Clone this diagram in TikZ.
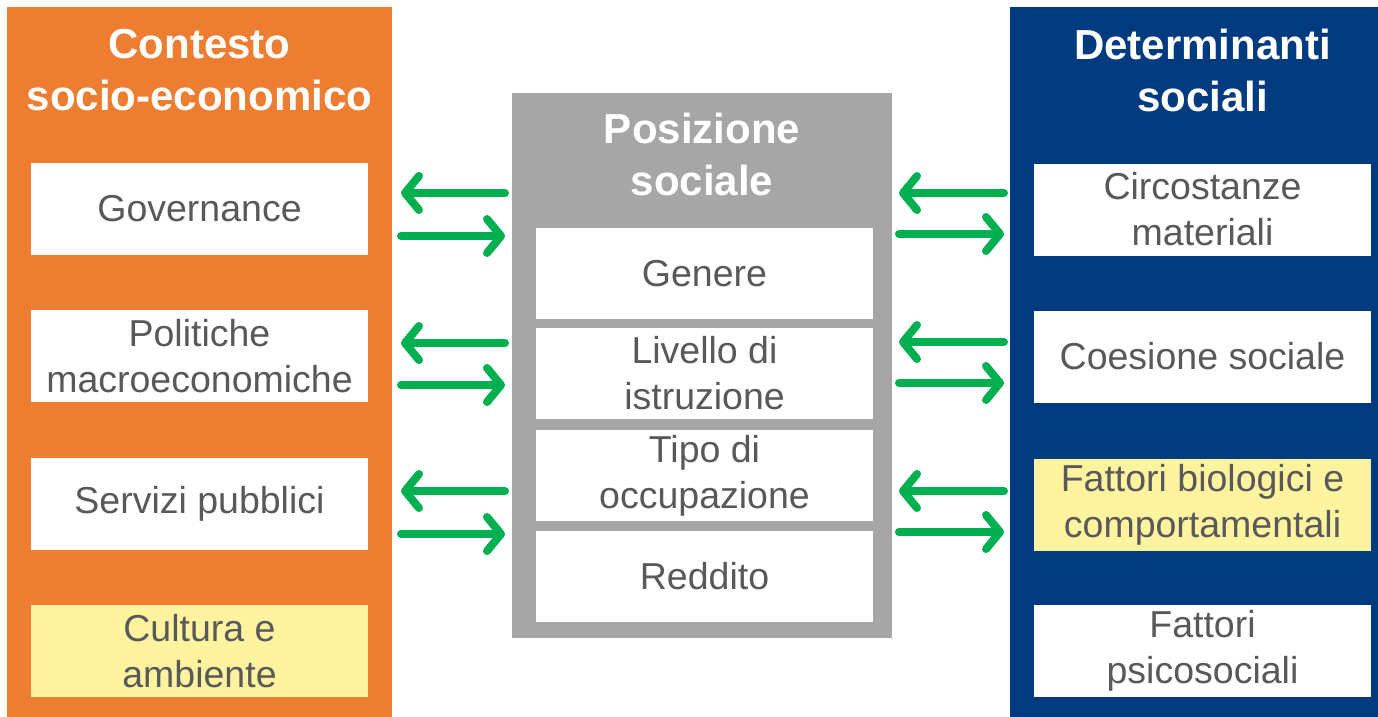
\documentclass[tikz,border=0pt]{standalone}
\usepackage{fontspec}
\setmainfont{Liberation Sans}
\usetikzlibrary{arrows.meta}
\definecolor{ctxorange}{RGB}{237,125,49}
\definecolor{detblue}{RGB}{0,59,128}
\definecolor{posgrey}{RGB}{166,166,166}
\definecolor{hlyellow}{RGB}{255,243,160}
\definecolor{arrowgreen}{RGB}{0,176,80}
\definecolor{txtgrey}{RGB}{89,89,89}
\begin{document}
\begin{tikzpicture}[x=1pt,y=-1pt,
  panelbox/.style={rectangle, anchor=north west, inner sep=0pt, draw=none},
  itembox/.style={rectangle, fill=white, inner sep=0pt, minimum width=337pt,
    minimum height=92pt, align=center, text=txtgrey,
    font=\fontsize{37.5}{46}\selectfont},
  hl/.style={fill=hlyellow},
  paneltitle/.style={anchor=north, inner sep=0pt, align=center, text=white,
    font=\bfseries\fontsize{42}{52}\selectfont},
  flow/.style={draw=arrowgreen, line width=8pt, line cap=round,
    -{Straight Barb[length=14pt,width=34pt,round]}}
]
\useasboundingbox (0,0) rectangle (1378,716);
\clip (0,0) rectangle (1378,716);

% panels
\node[panelbox, fill=ctxorange, minimum width=385pt, minimum height=730pt] (ctx) at (7,7) {};
\node[panelbox, fill=posgrey, minimum width=380pt, minimum height=545pt] (pos) at (512,93) {};
\node[panelbox, fill=detblue, minimum width=385pt, minimum height=730pt] (det) at (1010,7) {};

% titles
\node[paneltitle] (ctxt) at (199.5,29) {Contesto\\socio-economico};
\node[paneltitle] (post) at (702,113) {Posizione\\sociale};
\node[paneltitle] (dett) at (1202.5,29) {Determinanti\\sociali};

% left items
\node[itembox] (gov) at (199.5,209) {Governance};
\node[itembox] (pol) at (199.5,356) {Politiche\\macroeconomiche};
\node[itembox] (ser) at (199.5,504) {Servizi pubblici};
\node[itembox, hl] (cul) at (199.5,651) {Cultura e\\ambiente};

% middle items
\node[itembox, minimum height=91pt] (gen) at (704.5,273.5) {Genere};
\node[itembox, minimum height=91pt] (ist) at (704.5,373.5) {Livello di\\istruzione};
\node[itembox, minimum height=91pt] (occ) at (704.5,475.5) {Tipo di\\occupazione};
\node[itembox, minimum height=91pt] (red) at (704.5,576.5) {Reddito};

% right items
\node[itembox] (cir) at (1202.5,209.5) {Circostanze\\materiali};
\node[itembox] (coe) at (1202.5,356.5) {Coesione sociale};
\node[itembox, hl] (fat) at (1202.5,504.5) {Fattori biologici e\\comportamentali};
\node[itembox] (psi) at (1202.5,651) {Fattori\\psicosociali};

% arrow end points
\foreach \n/\ya/\yb in {1/193/236, 2/343/385, 3/491/534}{
  \coordinate (La\n) at (401,\ya);
  \coordinate (Lb\n) at (505,\ya);
  \coordinate (Lc\n) at (401,\yb);
  \coordinate (Ld\n) at (505,\yb);
}
\foreach \n/\ya/\yb in {1/193/234, 2/342/383, 3/491/532}{
  \coordinate (Ra\n) at (899,\ya);
  \coordinate (Rb\n) at (1004,\ya);
  \coordinate (Rc\n) at (899,\yb);
  \coordinate (Rd\n) at (1004,\yb);
}
\foreach \n in {1,2,3}{
  \draw[flow] (Lb\n) -- (La\n);
  \draw[flow] (Lc\n) -- (Ld\n);
  \draw[flow] (Rb\n) -- (Ra\n);
  \draw[flow] (Rc\n) -- (Rd\n);
}
\end{tikzpicture}
\end{document}
